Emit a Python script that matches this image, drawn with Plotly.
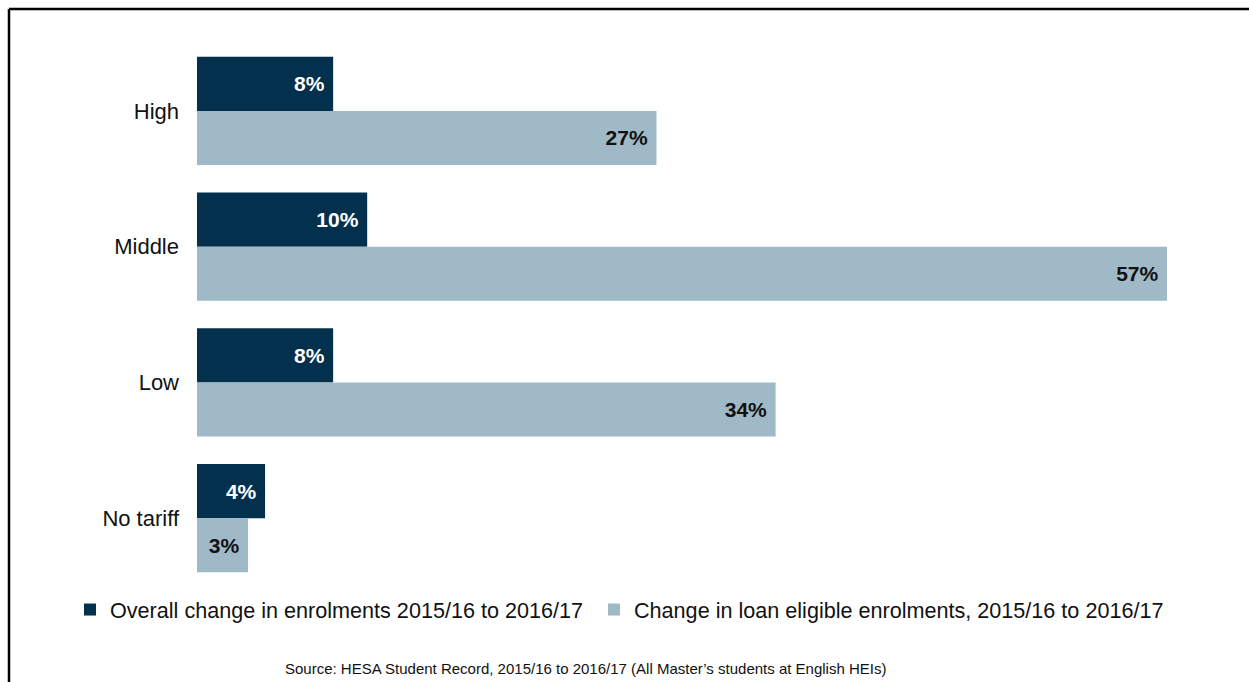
import plotly.graph_objects as go

categories = ["High", "Middle", "Low", "No tariff"]
overall_change = [8, 10, 8, 4]
loan_eligible_change = [27, 57, 34, 3]
series_names = [
    "Overall change in enrolments 2015/16 to 2016/17",
    "Change in loan eligible enrolments, 2015/16 to 2016/17",
]
source_text = "Source: HESA Student Record, 2015/16 to 2016/17 (All Master\u2019s students at English HEIs)"

DARK = "#03314d"
LIGHT = "#a0b9c7"
FONT = "Arial, Liberation Sans, sans-serif"

W, H = 1249, 682
L, R, T, B = 197, 82, 43, 96
pw = W - L - R
ph = H - T - B

def px_x(x):
    return (x - L) / pw

def px_y(y):
    return (H - B - y) / ph

fig = go.Figure()
fig.add_trace(go.Bar(
    y=categories, x=overall_change, orientation="h", name=series_names[0] + "\u00a0",
    marker=dict(color=DARK, line=dict(width=0)),
    texttemplate="%{x}%\u00a0", textposition="inside", insidetextanchor="end",
    textangle=0, constraintext="none",
    textfont=dict(family=FONT, size=21, color="white", weight="bold"),
))
fig.add_trace(go.Bar(
    y=categories, x=loan_eligible_change, orientation="h", name=series_names[1],
    marker=dict(color=LIGHT, line=dict(width=0)),
    texttemplate="%{x}%\u00a0", textposition="inside", insidetextanchor="end",
    textangle=0, constraintext="none",
    textfont=dict(family=FONT, size=21, color="#111111", weight="bold"),
))

fig.update_layout(
    width=W, height=H,
    margin=dict(l=L, r=R, t=T, b=B, autoexpand=False),
    paper_bgcolor="white", plot_bgcolor="white",
    barmode="group", bargap=0.203, bargroupgap=0,
    font=dict(family=FONT, color="#111111"),
    xaxis=dict(range=[0, 57], visible=False, fixedrange=True),
    yaxis=dict(autorange="reversed", showgrid=False, showline=False, zeroline=False,
               ticks="", ticklabelstandoff=17, fixedrange=True,
               tickfont=dict(family=FONT, size=22, color="#111111")),
    showlegend=True,
    legend=dict(orientation="h", xref="paper", yref="paper",
                x=px_x(70), y=px_y(589), xanchor="left", yanchor="top",
                traceorder="normal", itemwidth=30,
                font=dict(family=FONT, size=21.6, color="#111111"),
                bgcolor="rgba(0,0,0,0)"),
    annotations=[dict(
        text=source_text, xref="paper", yref="paper",
        x=px_x(585), y=px_y(668), xanchor="center", yanchor="middle",
        showarrow=False, font=dict(family=FONT, size=15, color="#111111"),
    )],
    shapes=[
        dict(type="line", xref="paper", yref="paper", x0=px_x(9), x1=px_x(9),
             y0=px_y(9), y1=px_y(700), line=dict(color="black", width=2.5)),
        dict(type="line", xref="paper", yref="paper", x0=px_x(9), x1=px_x(1260),
             y0=px_y(9), y1=px_y(9), line=dict(color="black", width=2.5)),
    ],
)

fig.write_html(
    "out.html",
    config={"displayModeBar": False},
    post_script="document.body.style.margin='0';document.body.style.overflow='hidden';",
)
